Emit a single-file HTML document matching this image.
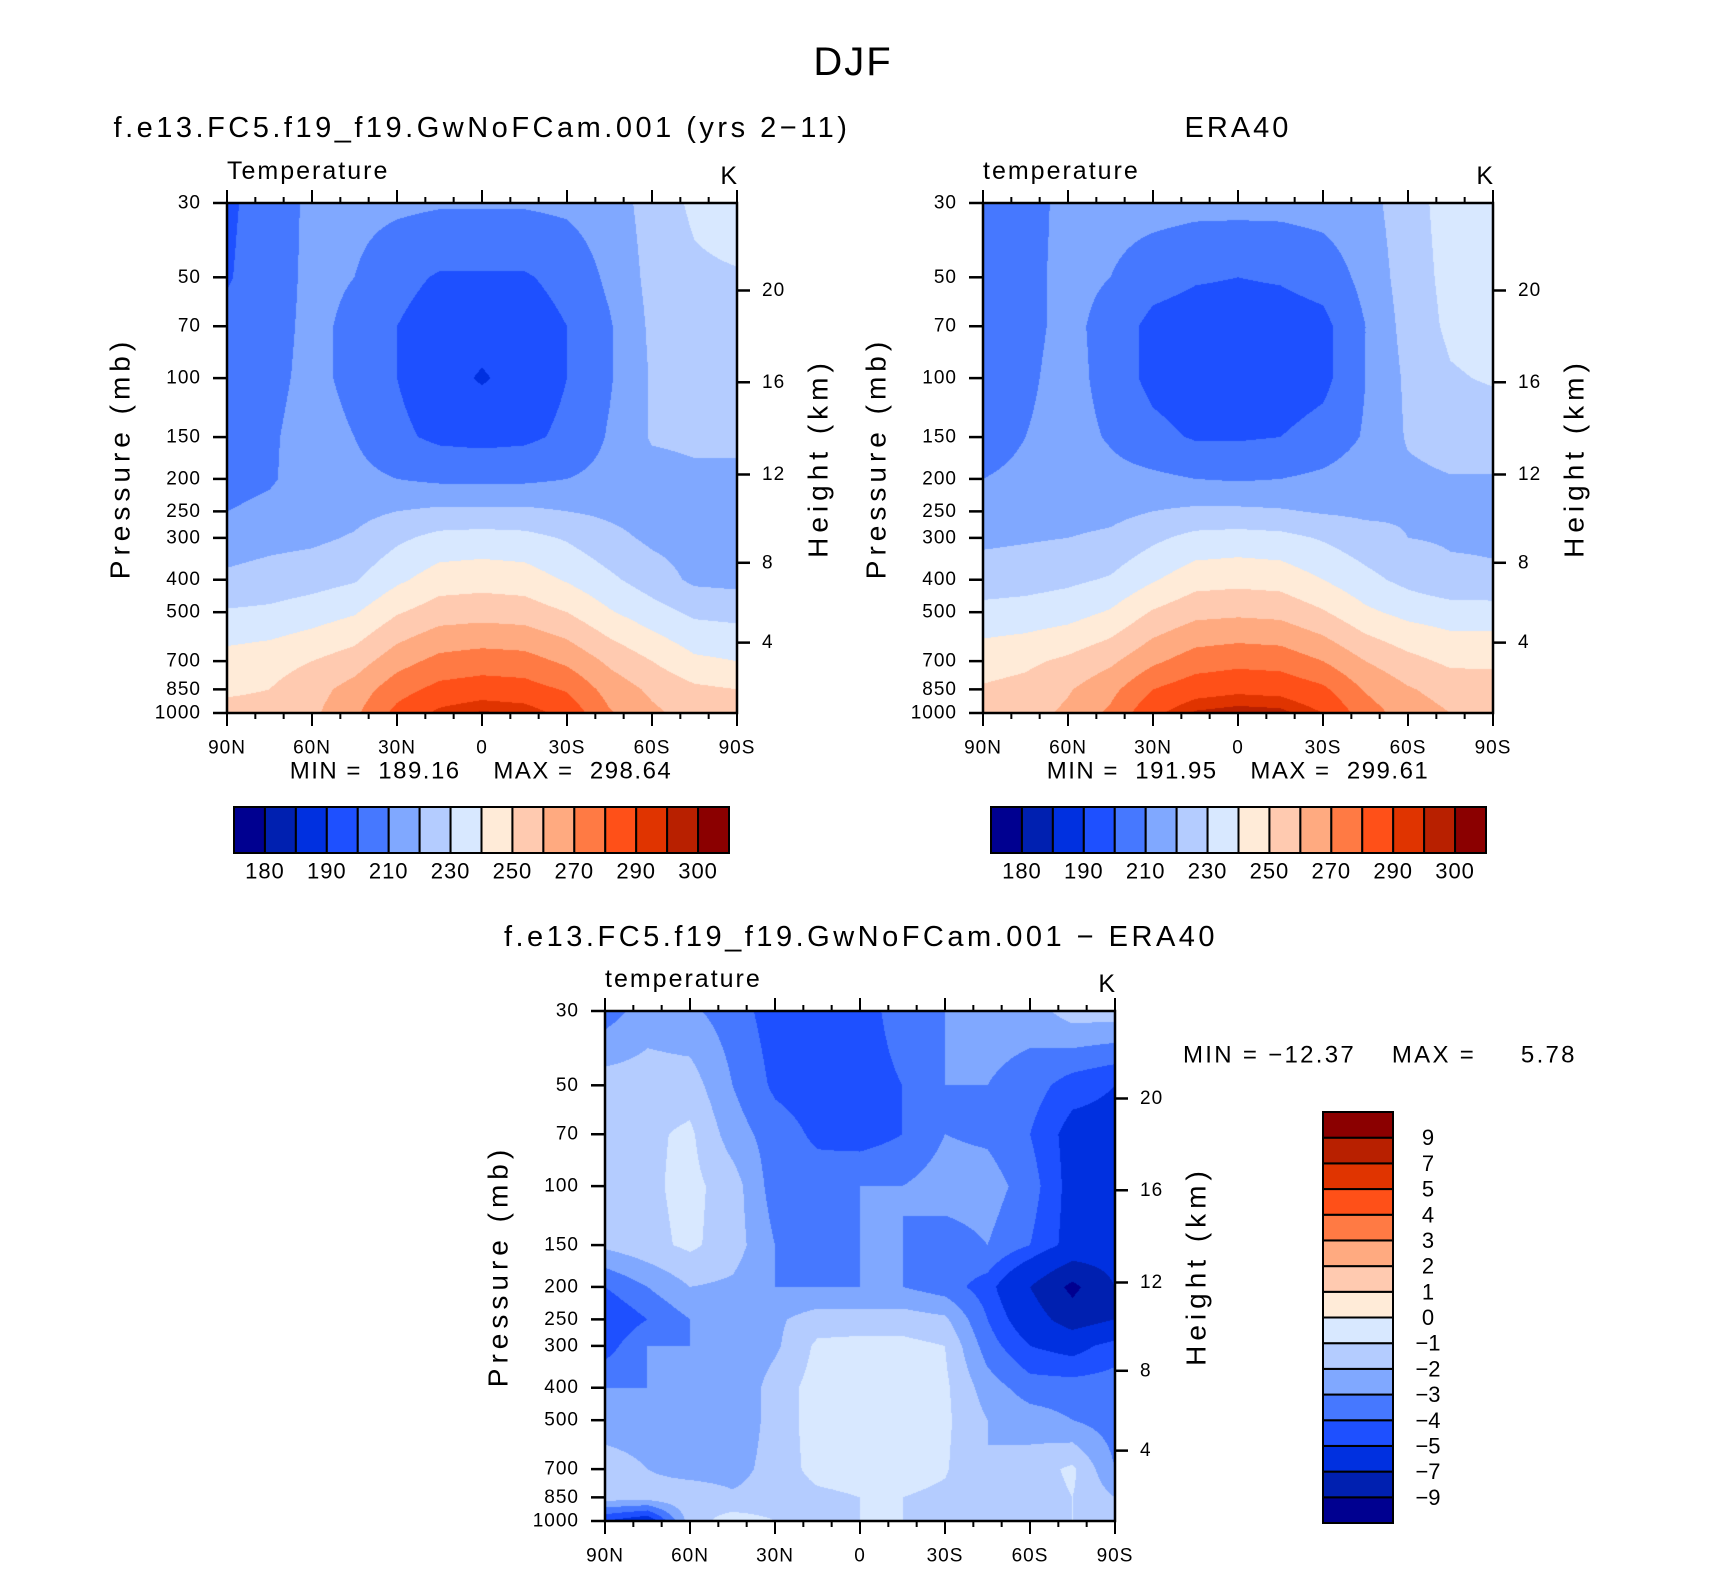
<!DOCTYPE html>
<html><head><meta charset="utf-8">
<style>
html,body{margin:0;padding:0;background:#fff;}
#root{position:relative;width:1710px;height:1575px;overflow:hidden;font-family:"Liberation Sans",sans-serif;}
canvas{position:absolute;}
svg{position:absolute;left:0;top:0;}
</style></head>
<body>
<div id="root">
<canvas id="c1" width="510" height="510" style="left:227px;top:203px"></canvas>
<canvas id="c2" width="510" height="510" style="left:983px;top:203px"></canvas>
<canvas id="c3" width="510" height="510" style="left:605px;top:1011px"></canvas>
<svg id="ov" width="1710" height="1575"></svg>
</div>
<script>
const levels=[30,50,70,100,150,200,250,300,400,500,700,850,1000];
const lats=[90,75,60,45,30,15,0,-15,-30,-45,-60,-75,-90];
const colors=["#000090","#0020b0","#0030e0","#1e50ff","#4678ff","#80a8ff","#b4ccff","#d8e8ff","#ffebd8","#ffcab0","#ffaa80","#ff7a44","#ff5018","#e03400","#b82000","#8b0000"];
const tempBounds=[180,185,190,200,210,220,230,240,250,260,270,280,290,295,300];
const tempLabels=["180","190","210","230","250","270","290","300"];
const diffBounds=[-9,-7,-5,-4,-3,-2,-1,0,1,2,3,4,5,7,9];
const diffLabels=["-9","-7","-5","-4","-3","-2","-1","0","1","2","3","4","5","7","9"];
const modelT=[
[198,205,212,213,212,211,211,211,212,215,224,232,236],
[199,206,212,210,203,199,199,199,203,212,223,228,229],
[203,207,212,208,200,195,194,195,200,209,222,226,227],
[205,208,212,208,200,194,189,194,200,209,221,225,226],
[207,209,213,210,202,198,197,198,202,211,221,222,222],
[207,209,214,213,210,208,208,208,210,213,216,218,218],
[210,212,215,217,220,222,222,222,220,218,216,216,216],
[215,217,218,221,228,233,234,233,229,223,218,216,216],
[222,224,226,229,238,245,246,245,239,232,225,218,217],
[231,232,235,239,249,255,256,255,250,241,234,228,227],
[244,246,250,255,266,273,275,274,268,258,250,242,240],
[249,250,256,264,276,283,285,284,279,266,258,252,250],
[252,252,258,268,283,292,296,294,287,271,262,256,256]];
const eraT=[
[205,206,213,214,214,213,213,213,214,216,226,234,236],
[205,207,213,210,204,201,200,201,204,213,225,233,235],
[205,207,213,206,197,195,195,195,197,210,224,232,234],
[206,208,214,206,197,194,194,194,197,210,222,229,231],
[208,210,214,209,203,199,199,200,204,211,221,224,224],
[210,211,214,213,212,210,209,210,212,215,218,219.5,219.5],
[214,215,216,217,220,222,222,221,219,218,219,219.5,219.5],
[218,219,220,222,228,233,234,233,229,224,220,219,219],
[225,226,228,231,239,246,247,246,240,233,227,222,221],
[233,234,236,241,251,257,258,257,251,242,237,235,235],
[246,248,252,258,268,275,277,276,270,260,253,248,248],
[251,253,259,267,280,286,288,287,282,269,261,256,255],
[254,256,262,272,288,296,298,297,290,275,265,260,260]];
const diffT=[
[-3.5,-2.5,-2.8,-3.5,-4.5,-4.5,-4.5,-3.5,-3,-2.5,-2.5,-1.5,-1.5],
[-1.5,-1.5,-1.5,-3,-4.2,-4.5,-4.5,-4,-3,-3,-3.5,-4.5,-5],
[-1.5,-1.2,-0.8,-2.5,-3.5,-4.2,-4.5,-4,-3,-3.2,-4,-5.5,-5.5],
[-1.5,-1.2,-0.7,-1.5,-3.5,-3.5,-3,-3,-2.5,-2.5,-3.5,-5.5,-6],
[-1.8,-1.3,-0.8,-1.5,-3,-3.5,-3,-3,-3.5,-3,-4,-5.5,-6],
[-4,-3,-2,-2.2,-3,-3,-3,-3,-3.5,-4.5,-7,-9.5,-7],
[-5,-4,-3,-2.5,-2.2,-1.5,-1.5,-1.5,-1.8,-4,-6,-8,-7],
[-4.5,-3,-3,-3,-2.2,-0.8,-0.7,-0.7,-1,-3.5,-5,-5.5,-4.5],
[-3,-3,-3,-3,-1.5,-0.6,-0.5,-0.5,-0.8,-2.5,-3.5,-3.5,-3.5],
[-2.5,-2.5,-2.5,-3,-1.5,-0.6,-0.5,-0.5,-0.8,-2,-2.5,-3,-3.5],
[-1.5,-2,-2.5,-2.5,-1.5,-0.7,-0.6,-0.6,-0.9,-2,-1.5,-0.8,-3],
[-1.5,-1.5,-1.2,-1.8,-1.5,-1.2,-1,-1,-1.2,-1.5,-1.5,-1,-2],
[-5,-6,-1.5,-0.5,-1,-1,-1,-1,-1,-1,-1,-1,-1]];
const pTicks=[30,50,70,100,150,200,250,300,400,500,700,850,1000];
const hTicks=[4,8,12,16,20];
const hTickPressures=[616.4,356.0,194.0,102.9,54.75];
const xTicks=[90,60,30,0,-30,-60,-90];
const xTickLabels=["90N","60N","30N","0","30S","60S","90S"];

const S=510;
function yOfP(p){return S*Math.log(p/30)/Math.log(1000/30);}
function xOfLat(l){return S*(90-l)/180;}
function hexRGB(h){return [parseInt(h.substr(1,2),16),parseInt(h.substr(3,2),16),parseInt(h.substr(5,2),16)];}
const rgb=colors.map(hexRGB);
const levY=levels.map(yOfP);
function drawField(id,grid,bounds){
  const ctx=document.getElementById(id).getContext('2d');
  const img=ctx.createImageData(S,S);
  for(let py=0;py<S;py++){
    const y=py+0.5;let k=0;
    while(k<levY.length-2&&y>levY[k+1])k++;
    let ty=(y-levY[k])/(levY[k+1]-levY[k]);ty=Math.max(0,Math.min(1,ty));
    for(let px=0;px<S;px++){
      const fx=(px+0.5)/S*(lats.length-1);let i=Math.min(Math.floor(fx),lats.length-2);const tx=fx-i;
      const v=(grid[k][i]*(1-tx)+grid[k][i+1]*tx)*(1-ty)+(grid[k+1][i]*(1-tx)+grid[k+1][i+1]*tx)*ty;
      let b=0;while(b<bounds.length&&v>=bounds[b])b++;
      const c=rgb[b];const o=(py*S+px)*4;
      img.data[o]=c[0];img.data[o+1]=c[1];img.data[o+2]=c[2];img.data[o+3]=255;
    }
  }
  ctx.putImageData(img,0,0);
}
drawField('c1',modelT,tempBounds);
drawField('c2',eraT,tempBounds);
drawField('c3',diffT,diffBounds);

const NS="http://www.w3.org/2000/svg";
const ov=document.getElementById('ov');
function el(tag,attrs,parent){const e=document.createElementNS(NS,tag);for(const k in attrs)e.setAttribute(k,attrs[k]);(parent||ov).appendChild(e);return e;}
function txt(s,x,y,size,anchor,parent,rot,ls){const t=el('text',{x:x,y:y,'font-size':size,'text-anchor':anchor||'middle','dominant-baseline':'central',fill:'#000','font-family':'Liberation Sans, sans-serif'},parent);if(ls)t.setAttribute('letter-spacing',ls);if(rot)t.setAttribute('transform','rotate(-90 '+x+' '+y+')');t.textContent=s.replace(/-/g,'\u2212');return t;}

let t;
t=txt('DJF',853,62,40,'middle',null,false,2);



function axes(name,L,T,leftTitle){
  const g=el('g',{});
  
  
  el('rect',{x:L,y:T,width:S,height:S,fill:'none',stroke:'#000','stroke-width':2.5},g);
  for(let lat=90;lat>=-90;lat-=10){
    const x=L+xOfLat(lat);const major=(lat%30===0);const len=major?13:6;
    el('line',{x1:x,y1:T,x2:x,y2:T-len,stroke:'#000','stroke-width':2},g);
    el('line',{x1:x,y1:T+S,x2:x,y2:T+S+len,stroke:'#000','stroke-width':2},g);
  }
  xTicks.forEach((lat,i)=>{const tl=txt(xTickLabels[i],L+xOfLat(lat),T+S+35,19,'middle',g,false,1);
    
    });
  pTicks.forEach(p=>{const y=T+yOfP(p);
    el('line',{x1:L,y1:y,x2:L-14,y2:y,stroke:'#000','stroke-width':2.5},g);
    const tl=txt(String(p),L-26,y,19,'end',g,false,1);
    
    });
  hTicks.forEach((h,i)=>{const y=T+yOfP(hTickPressures[i]);
    el('line',{x1:L+S,y1:y,x2:L+S+13,y2:y,stroke:'#000','stroke-width':2.5},g);
    const tl=txt(String(h),L+S+25,y,19,'start',g,false,1);
    
    });
  const a=txt('Pressure (mb)',L-107,T+255,28,'middle',g,true,5);
  
  
  const b=txt('Height (km)',L+S+81,T+255,28,'middle',g,true,5);
  
  
  const c=txt(leftTitle,L,T-32,25,'start',g,false,2);
  
  
  const d=txt('K',L+S,T-27,25,'end',g);
  
  
}
axes('model',227,203,'Temperature');
axes('era40',983,203,'temperature');
axes('difference',605,1011,'temperature');

t=txt('f.e13.FC5.f19_f19.GwNoFCam.001 (yrs 2-11)',482,128,29,'middle',null,false,3.5);


t=txt('ERA40',1238,128,29,'middle',null,false,3);


t=txt('f.e13.FC5.f19_f19.GwNoFCam.001 - ERA40',861,937,29,'middle',null,false,3.5);


t=txt('MIN =  189.16    MAX =  298.64',481,771,24,'middle',null,false,1.5);


t=txt('MIN =  191.95    MAX =  299.61',1238,771,24,'middle',null,false,1.5);


t=txt('MIN = -12.37    MAX =     5.78',1183,1055,24,'start',null,false,2.3);



function hbar(name,L,T,W,H){
  const g=el('g',{});
  
  
  const bw=W/colors.length;
  colors.forEach((c,i)=>{const r=el('rect',{x:L+i*bw,y:T,width:bw,height:H,fill:c,stroke:'#000','stroke-width':2},g);
    
    });
  tempLabels.forEach((s,j)=>{const tl=txt(s,L+(2*j+1)*bw,T+H+18,22,'middle',g,false,1);
    
    });
}
hbar('model-colorbar',234,807,495,46);
hbar('era40-colorbar',991,807,495,46);

(function(){
  const g=el('g',{});
  
  
  const L=1323,T=1112,W=70,H=411,bh=H/colors.length;
  colors.forEach((c,i)=>{const r=el('rect',{x:L,y:T+H-(i+1)*bh,width:W,height:bh,fill:c,stroke:'#000','stroke-width':2},g);
    
    });
  diffLabels.forEach((s,j)=>{const tl=txt(s,1428,T+H-(j+1)*bh,22,'middle',g);
    
    });
})();
Array.from(document.querySelectorAll('text')).forEach(e=>{e.style.whiteSpace='pre';});
</script>
</body></html>
